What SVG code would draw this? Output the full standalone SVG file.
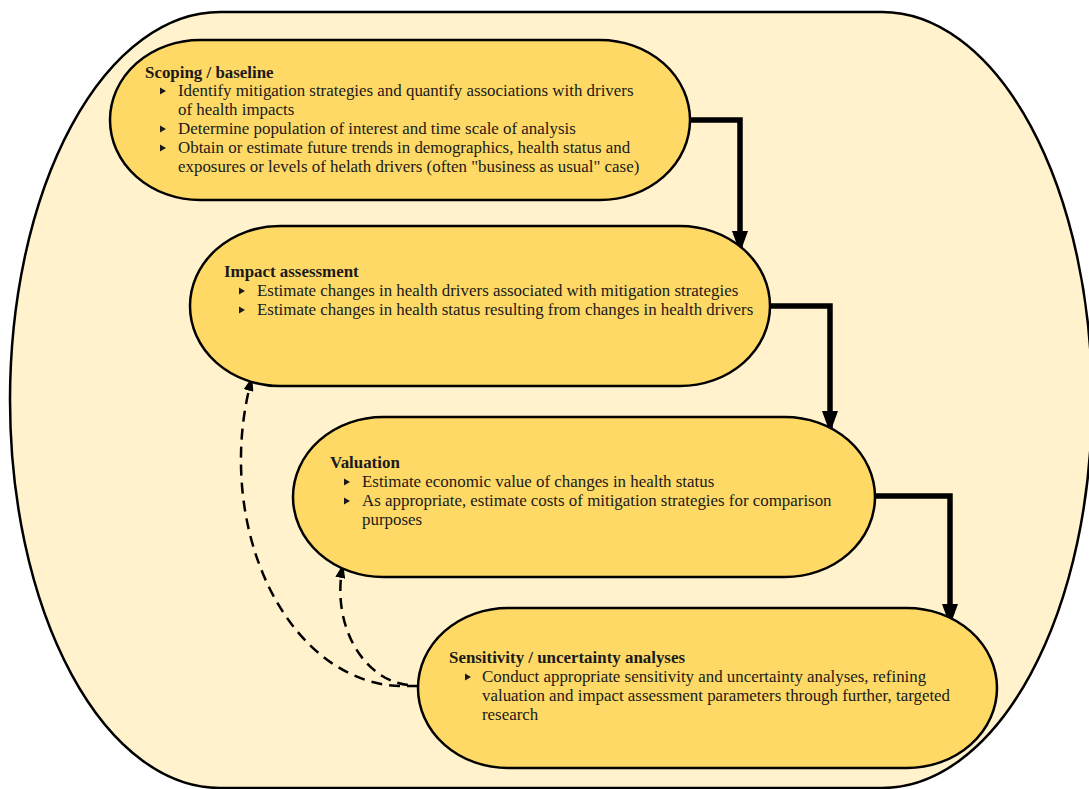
<svg xmlns="http://www.w3.org/2000/svg" width="1089" height="789" viewBox="0 0 1089 789">
<defs>
<style>
.outer{fill:#FFF2CC;stroke:#000;stroke-width:2.5}
.node{fill:#FFD966;stroke:#000;stroke-width:2.5}
.t{font-family:"Liberation Serif","DejaVu Serif",serif;font-size:16.9px;fill:#1a1a1a}
.h{font-weight:bold}
.flow{fill:none;stroke:#000;stroke-width:5.5}
.fb{fill:none;stroke:#000;stroke-width:2.5;stroke-dasharray:11 7}
.bul{fill:#1a1a1a}
</style>
<marker id="ah" viewBox="0 0 22 16" refX="21" refY="8" markerWidth="22" markerHeight="16" orient="auto" markerUnits="userSpaceOnUse">
<path d="M0,0 L22,8 L0,16 Z" fill="#000"/>
</marker>
<marker id="ahs" viewBox="0 0 14 10" refX="13" refY="5" markerWidth="14" markerHeight="10" orient="auto" markerUnits="userSpaceOnUse">
<path d="M0,0 L14,5 L0,10 Z" fill="#000"/>
</marker>
<path id="b" d="M0,-3.5 L6,0 L0,3.5 Z"/>
</defs>

<g id="frame">
<rect class="outer" x="10" y="12" width="1082" height="776" rx="210" ry="388"/>
</g>

<g id="connectors">
<path class="flow" d="M690,120 L740,120 L740,252" marker-end="url(#ah)"/>
<path class="flow" d="M770,306 L830,306 L830,432" marker-end="url(#ah)"/>
<path class="flow" d="M875,496 L950,496 L950,625" marker-end="url(#ah)"/>
<path class="fb" d="M418,686 L400,686 A162,226 0 0 1 252,378" marker-end="url(#ahs)"/>
<path class="fb" d="M408,685 A74,95 0 0 1 343,565" marker-end="url(#ahs)"/>
</g>

<g id="scoping">
<rect class="node" x="110" y="40" width="580" height="160" rx="90" ry="80"/>
<text class="t h" x="145" y="78">Scoping / baseline</text>
<use href="#b" class="bul" x="160" y="91"/>
<text class="t" x="178" y="96">Identify mitigation strategies and quantify associations with drivers</text>
<text class="t" x="178" y="115">of health impacts</text>
<use href="#b" class="bul" x="160" y="129"/>
<text class="t" x="178" y="134">Determine population of interest and time scale of analysis</text>
<use href="#b" class="bul" x="160" y="148"/>
<text class="t" x="178" y="153">Obtain or estimate future trends in demographics, health status and</text>
<text class="t" x="178" y="172">exposures or levels of helath drivers (often "business as usual" case)</text>
</g>

<g id="impact">
<rect class="node" x="190" y="226" width="580" height="160" rx="90" ry="80"/>
<text class="t h" x="224" y="277">Impact assessment</text>
<use href="#b" class="bul" x="239" y="291"/>
<text class="t" x="257" y="296">Estimate changes in health drivers associated with mitigation strategies</text>
<use href="#b" class="bul" x="239" y="310"/>
<text class="t" x="257" y="315">Estimate changes in health status resulting from changes in health drivers</text>
</g>

<g id="valuation">
<rect class="node" x="293" y="417" width="582" height="160" rx="90" ry="80"/>
<text class="t h" x="330" y="468">Valuation</text>
<use href="#b" class="bul" x="344" y="482"/>
<text class="t" x="362" y="487">Estimate economic value of changes in health status</text>
<use href="#b" class="bul" x="344" y="501"/>
<text class="t" x="362" y="506">As appropriate, estimate costs of mitigation strategies for comparison</text>
<text class="t" x="362" y="525">purposes</text>
</g>

<g id="sensitivity">
<rect class="node" x="418" y="608" width="579" height="160" rx="90" ry="80"/>
<text class="t h" x="449" y="663">Sensitivity / uncertainty analyses</text>
<use href="#b" class="bul" x="465" y="677"/>
<text class="t" x="482" y="682">Conduct appropriate sensitivity and uncertainty analyses, refining</text>
<text class="t" x="482" y="701">valuation and impact assessment parameters through further, targeted</text>
<text class="t" x="482" y="720">research</text>
</g>
</svg>
